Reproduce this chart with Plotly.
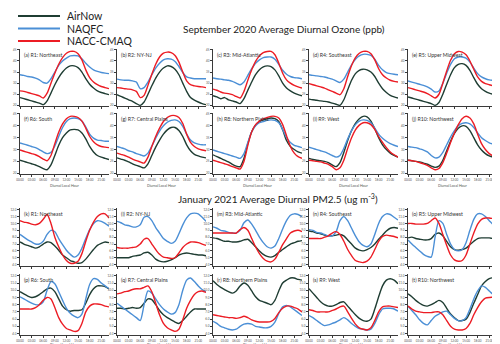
import plotly.graph_objects as go

# ---------------- data ----------------
HOURS = list(range(24))
X_TICK_VALS = [0, 3, 6, 9, 12, 15, 18, 21]
X_TICK_TEXT = ["00:00", "03:00", "06:00", "09:00", "12:00", "15:00", "18:00", "21:00"]

SERIES = ["AirNow", "NAQFC", "NACC-CMAQ"]
COLORS = ["#1f3d33", "#4b8fd6", "#ec1c24"]

O3_TITLE = "September 2020 Average Diurnal Ozone (ppb)"
PM_TITLE = "January 2021 Average Diurnal PM2.5 (ug m<sup>-3</sup>)"
X_TITLE = "Diurnal Local Hour"

O3_REGIONS = ["(a) R1: Northeast", "(b) R2: NY-NJ", "(c) R3: Mid-Atlantic", "(d) R4: Southeast",
              "(e) R5: Upper Midwest", "(f) R6: South", "(g) R7: Central Plains",
              "(h) R8: Northern Plains", "(i) R9: West", "(j) R10: Northwest"]
PM_REGIONS = ["(k) R1: Northeast", "(l) R2: NY-NJ", "(m) R3: Mid-Atlantic", "(n) R4: Southeast",
              "(o) R5: Upper Midwest", "(p) R6: South", "(q) R7: Central Plains",
              "(r) R8: Northern Plains", "(s) R9: West", "(t) R10: Northwest"]

O3_AIRNOW = [
    [23.5, 23.0, 22.5, 22.0, 21.5, 21.0, 20.3, 22.0, 25.5, 29.3, 32.5, 35.0, 36.8, 37.8, 37.8, 37.0, 35.0, 32.0, 29.5, 27.8, 26.5, 25.8, 25.3, 24.8],
    [24.8, 24.0, 23.3, 22.5, 21.8, 20.8, 20.0, 21.5, 25.0, 28.8, 32.3, 35.0, 36.8, 37.8, 37.5, 36.3, 33.8, 30.0, 26.3, 23.5, 22.3, 21.5, 20.8, 20.3],
    [24.3, 23.8, 23.0, 23.5, 22.5, 22.0, 21.5, 20.8, 23.0, 26.8, 30.5, 33.8, 36.0, 37.3, 37.8, 37.5, 36.0, 33.3, 30.0, 27.8, 26.5, 25.5, 24.8, 24.3],
    [22.8, 22.5, 22.3, 22.0, 21.8, 21.5, 21.0, 20.5, 20.0, 22.5, 27.0, 31.3, 34.3, 35.8, 36.3, 36.0, 35.0, 33.0, 30.0, 27.5, 25.8, 24.5, 23.8, 23.3],
    [23.8, 23.3, 22.8, 22.3, 21.8, 21.3, 20.8, 20.0, 21.3, 25.0, 29.5, 33.8, 37.0, 38.5, 38.8, 38.0, 35.8, 32.5, 29.5, 27.5, 26.3, 25.5, 25.0, 24.8],
    [25.5, 25.0, 24.5, 24.0, 23.5, 22.8, 22.0, 21.5, 23.5, 27.5, 31.8, 35.0, 37.0, 38.3, 38.5, 38.3, 37.0, 34.5, 31.3, 29.0, 27.5, 26.8, 26.3, 25.8],
    [26.5, 26.0, 25.5, 24.8, 24.0, 23.3, 22.8, 22.3, 24.0, 27.5, 31.0, 34.0, 36.5, 38.3, 39.3, 39.3, 38.0, 35.5, 32.0, 29.5, 28.0, 27.3, 26.8, 26.5],
    [27.8, 27.0, 26.3, 25.5, 24.8, 23.8, 23.0, 22.8, 26.3, 32.5, 37.5, 40.3, 41.8, 42.5, 43.0, 43.3, 43.0, 41.8, 38.3, 33.8, 31.3, 30.0, 29.0, 28.5],
    [26.3, 25.8, 25.5, 25.3, 25.0, 24.5, 23.5, 22.8, 24.5, 28.8, 33.8, 38.0, 41.0, 43.0, 44.0, 43.8, 42.0, 38.8, 35.0, 32.0, 30.0, 28.5, 27.5, 26.8],
    [25.5, 25.3, 25.0, 24.8, 24.3, 23.8, 23.0, 22.5, 23.0, 25.5, 29.5, 33.5, 36.8, 39.0, 40.0, 39.8, 38.0, 35.0, 32.0, 29.8, 28.3, 27.3, 26.8, 26.3],
]
O3_NAQFC = [
    [33.8, 33.5, 33.0, 32.8, 32.3, 31.5, 30.3, 30.0, 32.0, 35.0, 38.0, 40.0, 41.3, 42.3, 42.5, 42.3, 41.0, 39.0, 37.3, 36.0, 35.3, 34.8, 34.5, 34.3],
    [31.8, 31.5, 31.3, 31.3, 31.0, 30.5, 27.5, 28.0, 30.5, 33.8, 36.8, 39.0, 40.5, 41.0, 40.8, 39.8, 37.5, 34.8, 32.8, 32.3, 32.0, 32.0, 32.0, 32.0],
    [32.3, 32.0, 31.8, 31.5, 31.3, 30.8, 30.0, 29.3, 30.5, 33.5, 36.5, 39.0, 40.5, 41.5, 41.8, 41.8, 40.8, 38.5, 35.8, 34.0, 33.0, 32.5, 32.3, 32.0],
    [33.8, 33.5, 33.3, 33.0, 32.8, 32.3, 31.8, 31.0, 30.3, 31.8, 35.0, 38.3, 40.8, 42.3, 43.0, 43.0, 42.5, 40.8, 38.0, 36.0, 34.8, 34.3, 34.0, 33.8],
    [31.0, 30.5, 30.0, 29.5, 29.0, 28.3, 27.3, 26.0, 26.5, 30.0, 34.5, 38.5, 41.0, 41.8, 41.8, 41.3, 39.5, 36.8, 34.3, 32.8, 32.0, 31.5, 31.3, 31.3],
    [32.8, 32.3, 31.8, 31.3, 30.8, 30.0, 29.0, 28.3, 28.8, 31.5, 35.5, 39.3, 41.8, 43.0, 43.3, 43.0, 42.0, 39.5, 36.5, 34.8, 34.0, 33.8, 33.5, 33.5],
    [31.3, 30.8, 30.3, 29.5, 29.0, 28.3, 27.8, 27.3, 28.5, 31.5, 34.8, 37.8, 40.0, 41.5, 42.3, 42.5, 41.8, 39.8, 36.5, 34.0, 32.8, 32.3, 32.0, 32.0],
    [29.8, 29.3, 28.8, 28.3, 27.8, 27.3, 26.8, 26.3, 28.3, 33.0, 37.5, 40.0, 41.3, 41.8, 42.3, 42.5, 42.3, 41.3, 38.5, 35.0, 33.0, 31.8, 31.3, 30.8],
    [31.0, 30.5, 30.0, 29.5, 29.0, 28.3, 27.5, 26.8, 27.5, 30.5, 34.5, 38.0, 40.5, 42.0, 42.5, 42.3, 41.3, 39.0, 36.5, 34.8, 33.5, 32.5, 31.8, 31.3],
    [31.3, 31.0, 30.8, 30.3, 29.8, 29.0, 27.5, 26.5, 26.8, 28.8, 32.0, 35.3, 38.0, 40.0, 41.0, 41.3, 40.8, 39.3, 37.0, 35.0, 33.8, 32.8, 32.3, 32.0],
]
O3_CMAQ = [
    [26.5, 26.3, 25.8, 25.3, 24.8, 24.3, 23.3, 25.5, 30.0, 34.5, 38.5, 41.5, 43.5, 44.3, 44.3, 43.3, 40.5, 36.0, 32.5, 30.5, 29.3, 28.5, 28.0, 27.5],
    [28.0, 27.8, 27.5, 27.3, 27.0, 26.3, 23.5, 24.5, 29.0, 34.0, 38.5, 41.8, 43.5, 44.0, 43.8, 42.5, 39.5, 35.0, 31.0, 29.3, 28.8, 28.5, 28.3, 28.0],
    [27.3, 26.8, 26.0, 25.5, 25.3, 24.8, 24.0, 23.3, 26.3, 31.3, 36.0, 39.8, 42.3, 43.8, 44.3, 44.3, 42.8, 39.0, 34.5, 31.5, 30.0, 29.0, 28.3, 27.8],
    [29.8, 29.3, 28.8, 28.3, 27.8, 27.0, 26.3, 25.5, 24.8, 27.5, 33.0, 38.0, 41.5, 43.5, 44.3, 44.3, 43.3, 40.5, 36.5, 33.8, 32.3, 31.3, 30.8, 30.5],
    [28.0, 27.5, 27.0, 26.5, 26.0, 25.3, 24.3, 23.3, 25.0, 30.0, 35.5, 40.3, 43.3, 44.3, 44.0, 42.8, 40.0, 36.3, 32.8, 30.8, 29.8, 29.3, 28.8, 28.5],
    [29.8, 29.3, 28.8, 28.3, 27.8, 27.0, 26.0, 25.3, 27.5, 32.5, 37.3, 40.8, 43.0, 44.0, 44.0, 43.5, 42.0, 39.0, 35.5, 33.3, 32.0, 31.3, 31.0, 30.8],
    [28.5, 28.0, 27.5, 26.8, 26.0, 25.3, 24.8, 24.3, 26.8, 31.3, 35.5, 39.0, 41.8, 43.5, 44.3, 44.3, 43.5, 41.0, 36.5, 33.0, 31.3, 30.3, 29.8, 29.5],
    [25.5, 25.0, 24.5, 24.0, 23.5, 22.8, 22.3, 21.8, 25.0, 31.8, 37.5, 40.5, 42.0, 43.0, 43.5, 44.0, 44.0, 43.3, 40.5, 35.8, 31.3, 28.5, 27.0, 26.3],
    [25.5, 25.3, 25.0, 24.8, 24.3, 23.8, 22.8, 21.5, 22.3, 25.5, 30.5, 35.0, 38.3, 40.3, 41.3, 41.3, 40.5, 38.5, 35.5, 33.0, 30.8, 29.0, 27.8, 26.8],
    [25.5, 25.3, 25.0, 24.5, 24.0, 23.3, 22.3, 21.5, 22.0, 24.5, 28.5, 33.0, 37.0, 40.5, 43.0, 44.0, 43.3, 40.8, 36.5, 32.5, 30.0, 28.3, 27.3, 26.8],
]

PM_AIRNOW = [
    [7.3, 7.0, 6.8, 6.6, 6.4, 6.6, 7.0, 7.3, 7.2, 6.7, 6.1, 5.4, 5.0, 4.6, 4.4, 4.2, 4.3, 4.8, 5.5, 6.2, 6.8, 7.1, 7.3, 7.2],
    [5.0, 5.0, 5.0, 5.0, 5.2, 5.3, 5.4, 5.7, 5.8, 5.4, 4.8, 4.5, 4.4, 4.5, 4.7, 5.0, 5.4, 5.6, 5.7, 5.6, 5.5, 5.4, 5.4, 5.3],
    [7.9, 7.8, 7.6, 7.4, 7.4, 7.3, 7.3, 7.4, 7.6, 7.7, 7.2, 6.6, 6.0, 5.5, 5.2, 5.1, 5.3, 5.8, 6.2, 6.6, 7.0, 7.2, 7.4, 7.5],
    [8.9, 8.8, 8.6, 8.5, 8.3, 8.2, 8.2, 8.3, 8.4, 8.2, 7.6, 7.0, 6.4, 6.1, 6.0, 6.2, 6.5, 7.0, 7.7, 8.3, 8.9, 9.3, 9.4, 9.3],
    [7.9, 8.0, 7.8, 7.7, 7.6, 7.6, 7.8, 8.4, 8.6, 8.2, 7.4, 6.6, 6.2, 6.1, 6.2, 6.4, 6.9, 7.4, 7.8, 7.9, 7.9, 7.9, 7.8, 7.8],
    [9.8, 9.5, 9.2, 9.0, 9.1, 9.4, 9.8, 10.2, 10.3, 9.8, 8.8, 7.8, 7.3, 7.1, 7.2, 7.2, 7.3, 8.2, 9.4, 10.2, 10.6, 10.6, 10.5, 10.2],
    [7.5, 7.5, 7.4, 7.5, 7.6, 7.5, 7.6, 8.2, 8.8, 8.7, 8.0, 7.2, 6.6, 6.2, 5.9, 5.6, 5.4, 5.8, 6.4, 7.0, 7.4, 7.4, 7.4, 7.4],
    [11.3, 10.8, 10.4, 10.1, 9.8, 9.6, 9.9, 10.6, 11.0, 10.7, 9.9, 9.1, 8.6, 8.4, 8.2, 8.0, 8.6, 9.9, 11.0, 11.4, 11.7, 11.7, 11.5, 11.4],
    [10.2, 9.6, 9.0, 8.4, 8.0, 7.8, 7.8, 8.0, 8.3, 8.4, 7.8, 7.2, 6.6, 6.1, 5.8, 5.7, 6.0, 7.4, 9.1, 10.6, 11.4, 11.6, 11.4, 10.9],
    [9.5, 9.1, 8.6, 8.2, 7.9, 7.8, 8.0, 8.3, 8.6, 8.3, 7.5, 6.7, 6.2, 5.8, 5.8, 6.0, 6.9, 8.2, 9.4, 10.6, 11.2, 11.6, 11.7, 11.3],
]
PM_NAQFC = [
    [8.4, 8.0, 7.6, 7.3, 7.0, 7.0, 7.4, 8.4, 9.0, 8.8, 7.8, 6.9, 6.1, 5.5, 5.1, 5.4, 6.4, 7.8, 9.1, 10.0, 10.4, 10.3, 10.0, 9.6],
    [10.3, 10.1, 9.8, 9.7, 9.5, 9.5, 9.8, 10.9, 11.0, 10.4, 9.4, 8.6, 7.8, 7.4, 7.1, 7.4, 8.5, 9.8, 10.8, 11.4, 11.5, 11.4, 10.9, 10.3],
    [9.5, 9.3, 9.0, 8.9, 8.7, 8.6, 8.6, 9.0, 10.1, 10.5, 9.9, 9.0, 8.0, 7.2, 6.6, 6.4, 6.7, 7.8, 9.2, 10.4, 11.2, 11.4, 11.3, 11.0],
    [9.1, 9.0, 8.7, 8.6, 8.4, 8.2, 8.2, 8.8, 10.4, 11.0, 10.4, 9.3, 8.2, 7.3, 6.8, 6.6, 7.0, 8.4, 10.0, 11.0, 11.4, 11.3, 10.9, 10.5],
    [7.6, 7.0, 6.5, 6.0, 5.5, 5.2, 5.1, 8.0, 10.4, 10.0, 8.4, 7.0, 6.2, 6.0, 6.2, 7.2, 9.0, 10.6, 11.4, 11.4, 11.0, 10.4, 9.8, 9.1],
    [9.1, 8.8, 8.5, 8.2, 8.0, 8.0, 8.4, 10.0, 11.2, 10.9, 9.8, 8.6, 7.5, 6.8, 6.4, 6.2, 6.7, 8.8, 10.8, 11.6, 11.5, 11.0, 10.6, 10.2],
    [8.2, 7.8, 7.4, 7.0, 6.6, 6.2, 5.8, 8.0, 9.9, 9.6, 8.8, 8.0, 7.4, 7.0, 6.7, 6.9, 8.0, 10.0, 11.4, 11.7, 11.2, 10.6, 10.1, 9.8],
    [5.7, 5.4, 5.0, 4.8, 4.6, 4.5, 4.6, 5.0, 5.3, 5.4, 5.3, 5.0, 4.9, 4.8, 4.8, 5.0, 5.6, 6.8, 7.7, 7.9, 7.7, 7.3, 6.9, 6.5],
    [6.5, 6.2, 5.8, 5.4, 5.1, 5.2, 5.4, 5.6, 5.9, 6.2, 5.9, 5.4, 5.0, 4.7, 4.6, 4.5, 4.6, 5.4, 6.6, 7.4, 7.5, 7.5, 7.4, 7.1],
    [7.8, 7.2, 6.6, 5.9, 5.4, 5.2, 5.8, 6.4, 6.7, 7.0, 7.1, 6.6, 6.1, 5.8, 5.8, 6.2, 7.4, 8.8, 9.9, 10.6, 10.4, 9.9, 9.4, 9.0],
]
PM_CMAQ = [
    [10.4, 10.2, 10.1, 9.9, 9.8, 10.0, 10.6, 11.3, 10.0, 8.0, 6.6, 5.4, 4.6, 4.2, 4.2, 4.5, 5.6, 7.4, 9.0, 10.2, 11.0, 11.4, 11.4, 10.8],
    [6.5, 6.4, 6.4, 6.4, 6.5, 6.6, 7.0, 7.7, 7.8, 7.0, 6.2, 5.5, 5.1, 5.0, 4.9, 5.0, 5.7, 6.5, 7.0, 7.3, 7.3, 7.2, 7.0, 6.8],
    [8.6, 8.6, 8.6, 8.6, 8.6, 8.6, 8.6, 9.1, 9.4, 9.0, 7.8, 6.6, 5.6, 4.9, 4.5, 4.4, 4.8, 5.8, 6.9, 7.8, 8.6, 8.9, 9.0, 8.8],
    [7.8, 7.8, 7.8, 7.8, 8.0, 8.2, 8.6, 8.8, 8.4, 7.4, 6.2, 5.3, 4.6, 4.4, 4.3, 4.5, 5.1, 6.2, 7.4, 8.1, 8.3, 8.2, 8.1, 7.9],
    [10.0, 10.0, 9.9, 9.9, 9.9, 10.0, 10.4, 10.8, 10.0, 8.4, 6.8, 5.4, 4.7, 4.5, 4.6, 5.4, 7.0, 8.6, 9.9, 10.6, 10.8, 10.8, 10.7, 10.6],
    [7.4, 7.4, 7.4, 7.4, 7.6, 8.0, 8.6, 9.0, 8.8, 7.6, 6.2, 5.3, 4.7, 4.5, 4.3, 4.4, 5.4, 7.0, 7.8, 8.1, 8.1, 8.0, 7.8, 7.7],
    [9.5, 9.6, 9.8, 9.9, 10.1, 10.2, 10.2, 10.4, 10.6, 9.8, 8.2, 6.6, 5.4, 4.8, 4.5, 4.3, 4.6, 5.9, 7.5, 8.6, 9.4, 9.8, 9.9, 9.7],
    [6.6, 6.5, 6.4, 6.3, 6.2, 6.2, 6.1, 6.2, 6.4, 6.2, 5.9, 5.7, 5.6, 5.6, 5.6, 5.7, 6.1, 6.9, 7.5, 7.8, 7.8, 7.6, 7.4, 7.0],
    [7.3, 7.2, 7.0, 7.0, 7.0, 7.0, 7.2, 7.4, 7.7, 7.8, 7.0, 6.1, 5.3, 4.8, 4.6, 4.5, 4.8, 5.8, 7.0, 7.7, 7.8, 7.8, 7.7, 7.6],
    [7.8, 7.4, 7.1, 7.0, 6.9, 6.9, 6.9, 7.0, 7.0, 6.6, 5.8, 5.0, 4.6, 4.5, 4.5, 4.7, 5.4, 6.6, 7.6, 8.4, 8.9, 9.0, 9.0, 8.5],
]

# ---------------- layout ----------------
W, H = 500, 344
COL_LEFT = [12, 109, 205, 301, 400]
COL_W = 89
ROWS = [(41, 98), (105, 166), (200, 258), (266, 327)]
XTITLE_Y = {1: 178, 3: 337}
O3_RANGE = [19.7, 45.4]
PM_RANGE = [3.8, 12.25]
FONT = "Lato, 'Open Sans', sans-serif"
AXIS_COLOR = "#3a3a3a"


def fx(p):
    return p / W


def fy(p):
    return 1 - p / H


fig = go.Figure()
layout = {}
annotations = []
shapes = []

panels = [(O3_REGIONS[i], O3_AIRNOW[i], O3_NAQFC[i], O3_CMAQ[i], "o3") for i in range(10)] + \
         [(PM_REGIONS[i], PM_AIRNOW[i], PM_NAQFC[i], PM_CMAQ[i], "pm") for i in range(10)]

for k, (label, an, nq, cm, kind) in enumerate(panels):
    row, col = divmod(k, 5)
    n = k + 1
    top, bot = ROWS[row]
    left = COL_LEFT[col]
    xd = [fx(left), fx(left + COL_W)]
    yd = [fy(bot), fy(top)]
    show_xlabels = row in (1, 3)
    xa = dict(domain=xd, range=[0, 23], anchor=f"y{n}", showgrid=False, zeroline=False,
              showline=True, linecolor=AXIS_COLOR, linewidth=0.8,
              ticks="outside", ticklen=2, tickwidth=0.5, tickcolor=AXIS_COLOR,
              tickvals=X_TICK_VALS, ticktext=X_TICK_TEXT, showticklabels=show_xlabels,
              tickfont=dict(size=3, color="#555", family=FONT), automargin=False,
              fixedrange=True)
    if kind == "o3":
        ya_range, dtick, fmt = O3_RANGE, 5, "d"
    else:
        ya_range, dtick, fmt = PM_RANGE, 1, ".1f"
    ya = dict(domain=yd, range=ya_range, anchor=f"x{n}", showgrid=False, zeroline=False,
              showline=True, linecolor=AXIS_COLOR, linewidth=0.8,
              ticks="outside", ticklen=2, tickwidth=0.5, tickcolor=AXIS_COLOR,
              dtick=dtick, tickformat=fmt,
              tickfont=dict(size=3, color="#555", family=FONT), automargin=False,
              fixedrange=True)
    layout["xaxis" if n == 1 else f"xaxis{n}"] = xa
    layout["yaxis" if n == 1 else f"yaxis{n}"] = ya

    for name, vals, color in zip(SERIES, [an, nq, cm], COLORS):
        fig.add_trace(go.Scatter(
            x=HOURS, y=vals, mode="lines", name=name, legendgroup=name,
            showlegend=False, xaxis=f"x{n}", yaxis=f"y{n}",
            line=dict(color=color, width=1.4, shape="spline", smoothing=0.7),
            hoverinfo="skip"))

    annotations.append(dict(text=label, xref="paper", yref="paper",
                            x=fx(left + 2), y=fy(top + 1), xanchor="left", yanchor="top",
                            showarrow=False, font=dict(size=5.2, color="#333", family=FONT)))
    if show_xlabels:
        annotations.append(dict(text=X_TITLE, xref="paper", yref="paper",
                                x=fx(left + COL_W / 2), y=fy(XTITLE_Y[row]),
                                xanchor="center", yanchor="middle", showarrow=False,
                                borderpad=0,
                                font=dict(size=3.5, color="#555", family=FONT)))

# section titles
annotations.append(dict(text=O3_TITLE, xref="paper", yref="paper", x=fx(276), y=fy(21),
                        xanchor="center", yanchor="middle", showarrow=False,
                        font=dict(size=10, color="#222", family=FONT)))
annotations.append(dict(text=PM_TITLE, xref="paper", yref="paper", x=fx(270), y=fy(190),
                        xanchor="center", yanchor="middle", showarrow=False,
                        font=dict(size=10, color="#222", family=FONT)))

# manual legend (key lines + labels)
for i, (name, color) in enumerate(zip(SERIES, COLORS)):
    yy = 8 + 12.5 * i
    shapes.append(dict(type="line", xref="paper", yref="paper",
                       x0=fx(10), x1=fx(52), y0=fy(yy), y1=fy(yy),
                       line=dict(color=color, width=1.8)))
    annotations.append(dict(text=name, xref="paper", yref="paper", x=fx(57), y=fy(yy),
                            xanchor="left", yanchor="middle", showarrow=False,
                            font=dict(size=10.5, color="#222", family=FONT)))

fig.update_layout(
    width=W, height=H, autosize=False,
    margin=dict(l=0, r=0, t=0, b=0, pad=0),
    paper_bgcolor="white", plot_bgcolor="white",
    template="none", showlegend=False,
    annotations=annotations, shapes=shapes,
    **layout)

fig.write_html("out.html")
